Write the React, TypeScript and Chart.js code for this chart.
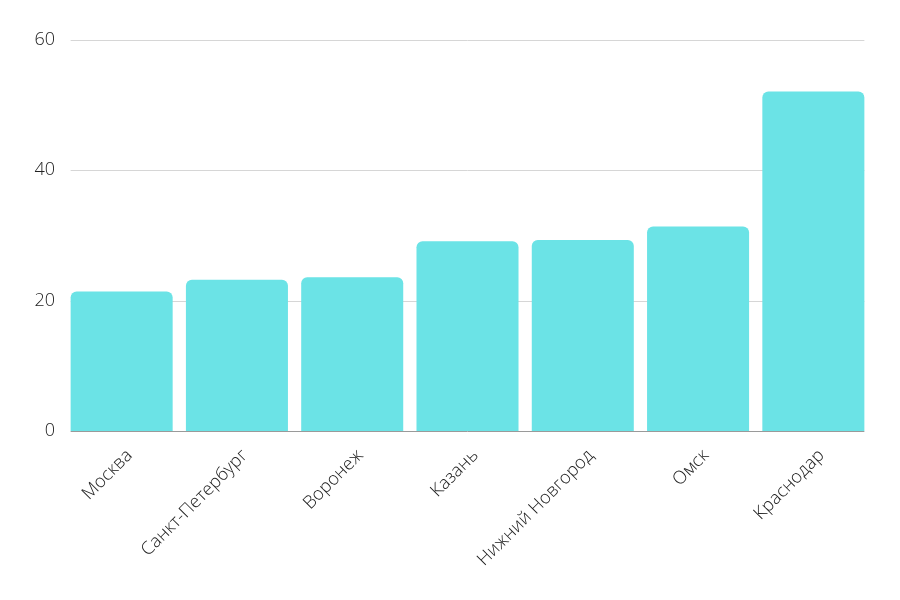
import React, { useRef, useEffect } from 'react';
import Chart from 'chart.js/auto';

const cities = ['Москва', 'Санкт-Петербург', 'Воронеж', 'Казань', 'Нижний Новгород', 'Омск', 'Краснодар'];
const values = [21.4, 23.2, 23.6, 29.1, 29.3, 31.4, 52.1];
const yTicks = [0, 20, 40, 60];

const FONT = "'Open Sans', sans-serif";

// grid lines drawn only across the bars (first bar left edge to last bar right edge)
const gridPlugin = {
  id: 'barGrid',
  beforeDatasetsDraw(chart: any) {
    const meta = chart.getDatasetMeta(0);
    if (!meta.data.length) return;
    const first = meta.data[0].getProps(['x', 'width'], true);
    const last = meta.data[meta.data.length - 1].getProps(['x', 'width'], true);
    const x0 = first.x - first.width / 2;
    const x1 = last.x + last.width / 2;
    const y = chart.scales.y;
    const ctx = chart.ctx;
    ctx.save();
    ctx.lineWidth = 1;
    yTicks.forEach((v) => {
      const py = Math.round(y.getPixelForValue(v)) + 0.5;
      ctx.strokeStyle = v === 0 ? '#9a9a9a' : '#d6d6d6';
      ctx.beginPath();
      ctx.moveTo(x0, py);
      ctx.lineTo(x1, py);
      ctx.stroke();
    });
    ctx.restore();
  },
};

const BarChart = () => {
  const chartRef = useRef<HTMLCanvasElement>(null);

  useEffect(() => {
    document.body.style.margin = '0';
    const ctx = chartRef.current?.getContext('2d');
    if (!ctx) return;
    const myChart = new Chart(ctx, {
      type: 'bar',
      data: {
        labels: cities,
        datasets: [
          {
            data: values,
            backgroundColor: '#6be3e6',
            borderWidth: 0,
            borderRadius: 6,
            barPercentage: 0.885,
            categoryPercentage: 1,
          },
        ],
      },
      options: {
        animation: false,
        responsive: false,
        layout: { padding: { top: 40, right: 29, left: 8, bottom: 0 } },
        plugins: {
          legend: { display: false },
          tooltip: { enabled: false },
        },
        scales: {
          x: {
            grid: { display: false, drawTicks: false },
            border: { display: false },
            ticks: {
              minRotation: 45,
              maxRotation: 45,
              padding: 14,
              labelOffset: 8,
              color: '#222222',
              font: { family: FONT, size: 18, weight: 300 },
            },
            afterFit: (s: any) => {
              s.height = 169;
            },
          },
          y: {
            min: 0,
            max: 60,
            grid: { display: false, drawTicks: false },
            border: { display: false },
            ticks: {
              stepSize: 20,
              padding: 9,
              color: '#222222',
              font: { family: FONT, size: 18, weight: 300 },
            },
            afterFit: (s: any) => {
              s.width = 56;
            },
          },
        },
      },
      plugins: [gridPlugin],
    });

    return () => {
      myChart.destroy();
    };
  }, []);

  return <canvas ref={chartRef} width='900' height='600'></canvas>;
};

export default function App() {
  return (
    <div style={{ width: 900, height: 600, background: '#fff' }}>
      <BarChart />
    </div>
  );
}
